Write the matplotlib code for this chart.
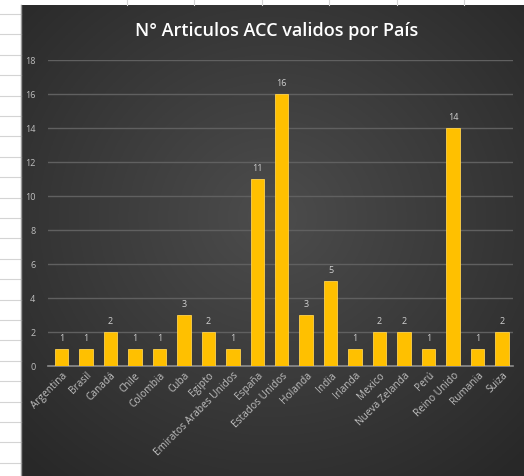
import numpy as np
import matplotlib
matplotlib.use('Agg')
import matplotlib.pyplot as plt
from matplotlib.lines import Line2D

paises = ['Argentina', 'Brasil', 'Canadá', 'Chile', 'Colombia', 'Cuba', 'Egipto',
          'Emiratos Arabes Unidos', 'España', 'Estados Unidos', 'Holanda', 'India',
          'Irlanda', 'Mexico', 'Nueva Zelanda', 'Perú', 'Reino Unido', 'Rumania', 'Suiza']
articulos = [1, 1, 2, 1, 1, 3, 2, 1, 11, 16, 3, 5, 1, 2, 2, 1, 14, 1, 2]
yticks = [0, 2, 4, 6, 8, 10, 12, 14, 16, 18]

plt.rcParams['font.family'] = ['Open Sans', 'DejaVu Sans']

W, H = 524, 476
fig = plt.figure(figsize=(W / 100, H / 100), dpi=100)
fig.patch.set_facecolor('white')

# spreadsheet cell borders behind the chart
for y in np.arange(14, H, 20.4):
    fig.add_artist(Line2D([0, 21 / W], [1 - y / H, 1 - y / H], color='#d4d4d4', lw=0.8))
for x in [127, 194, 262, 329, 397, 464]:
    fig.add_artist(Line2D([x / W, x / W], [1, 1 - 5 / H], color='#d4d4d4', lw=0.8))

# chart area with dark radial gradient
bg = fig.add_axes([21 / W, 0, 1 - 21 / W, 1 - 5 / H])
yy, xx = np.mgrid[-1:1:300j, -1:1:300j]
r = np.sqrt((xx * 0.9) ** 2 + ((yy + 0.1) * 0.9) ** 2)
shade = 0.30 - 0.11 * np.clip(r, 0, 1.3)
bg.imshow(np.dstack([shade, shade, shade]), aspect='auto', extent=[0, 1, 0, 1])
bg.set_axis_off()
fig.add_artist(Line2D([21 / W, 21 / W], [0, 1 - 5 / H], color='#9a9a9a', lw=1))

fig.text(277 / W, 1 - 31 / H, 'N° Articulos ACC validos por País', ha='center', va='center',
         color='white', fontsize=13, fontweight='semibold')

ax = fig.add_axes([48 / W, 1 - 366 / H, (513 - 48) / W, (366 - 60) / H])
ax.set_facecolor('none')
x = np.arange(len(paises))
bars = ax.bar(x, articulos, width=0.55, color='#ffc000', edgecolor='#ffd24d', linewidth=0.6, zorder=3)
for b, v in zip(bars, articulos):
    ax.text(b.get_x() + b.get_width() / 2, v + 0.35, str(v), ha='center', va='bottom',
            color='#d0d0d0', fontsize=6.5)

ax.set_ylim(0, 18)
ax.set_xlim(-0.55, len(paises) - 0.55)
ax.set_yticks(yticks)
ax.yaxis.grid(True, color='#606060', lw=1)
ax.set_axisbelow(True)
for s in ['top', 'right', 'left']:
    ax.spines[s].set_visible(False)
ax.spines['bottom'].set_color('#8c8c8c')
ax.spines['bottom'].set_linewidth(1.2)
ax.tick_params(axis='y', length=0, colors='#bfbfbf', labelsize=6.5, pad=9)
ax.tick_params(axis='x', length=0, colors='#bfbfbf', labelsize=7.3, pad=3)
ax.set_xticks(x)
ax.set_xticklabels(paises, rotation=45, ha='right', rotation_mode='anchor')

plt.savefig('out.png', dpi=100)
plt.close()
